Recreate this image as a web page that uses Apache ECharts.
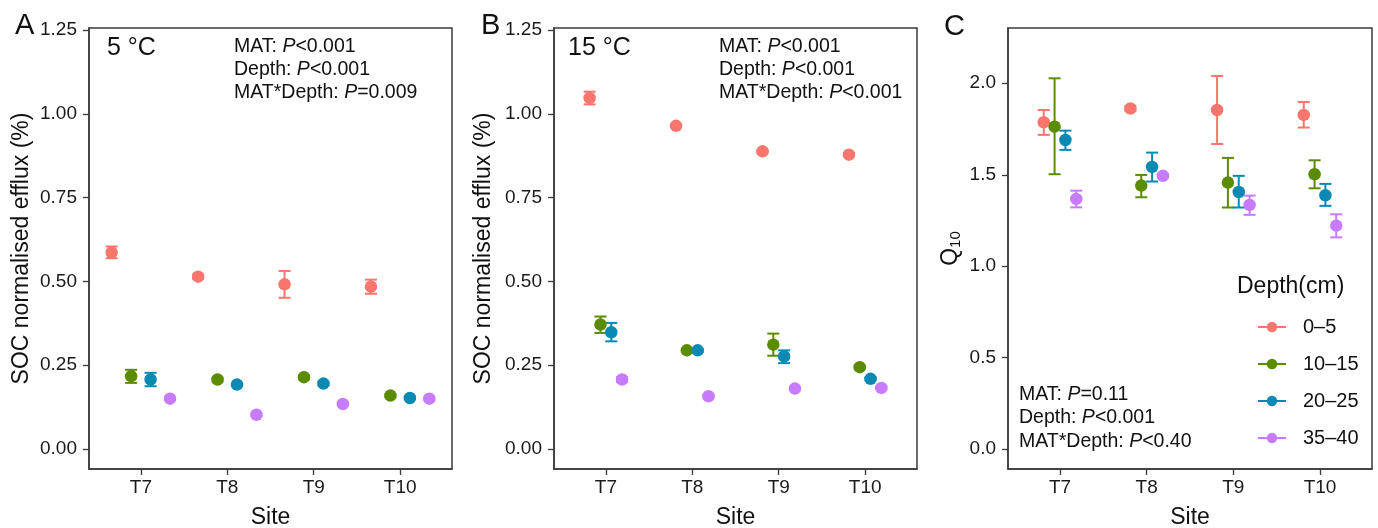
<!DOCTYPE html>
<html>
<head>
<meta charset="utf-8">
<script src="https://cdn.jsdelivr.net/npm/echarts@6/dist/echarts.min.js"></script>
<style>
html,body{margin:0;padding:0;background:#fff;}
#main{width:1378px;height:528px;}
</style>
</head>
<body>
<div id="main"></div>
<script>
// ---------------- data ----------------
const sites = ['T7', 'T8', 'T9', 'T10'];
const depths = ['0–5', '10–15', '20–25', '35–40'];
const colors = ['#F8766D', '#5B8C00', '#0A8AB3', '#C77CFF'];

// Panel A: 5 °C, SOC normalised efflux (%) ; rows = depth, cols = site
const aMean = [[0.586, 0.514, 0.491, 0.484], [0.217, 0.207, 0.214, 0.159], [0.207, 0.192, 0.195, 0.152], [0.150, 0.102, 0.134, 0.150]];
const aLow  = [[0.569, 0.508, 0.451, 0.463], [0.197, 0.202, 0.209, 0.155], [0.187, 0.188, 0.190, 0.148], [0.146, 0.098, 0.130, 0.146]];
const aHigh = [[0.604, 0.520, 0.531, 0.505], [0.236, 0.212, 0.219, 0.163], [0.227, 0.196, 0.200, 0.156], [0.154, 0.106, 0.138, 0.154]];

// Panel B: 15 °C
const bMean = [[1.047, 0.964, 0.888, 0.878], [0.371, 0.294, 0.311, 0.244], [0.348, 0.294, 0.276, 0.209], [0.207, 0.157, 0.180, 0.182]];
const bLow  = [[1.028, 0.960, 0.884, 0.874], [0.346, 0.290, 0.278, 0.240], [0.321, 0.290, 0.256, 0.205], [0.200, 0.153, 0.176, 0.178]];
const bHigh = [[1.066, 0.968, 0.892, 0.882], [0.395, 0.298, 0.344, 0.248], [0.376, 0.298, 0.294, 0.213], [0.214, 0.161, 0.184, 0.186]];

// Panel C: Q10
const cMean = [[1.787, 1.862, 1.854, 1.827], [1.763, 1.441, 1.457, 1.503], [1.690, 1.543, 1.406, 1.388], [1.368, 1.494, 1.335, 1.222]];
const cLow  = [[1.718, 1.850, 1.668, 1.758], [1.503, 1.377, 1.321, 1.426], [1.636, 1.463, 1.321, 1.330], [1.322, 1.484, 1.281, 1.158]];
const cHigh = [[1.854, 1.874, 2.040, 1.898], [2.027, 1.499, 1.592, 1.579], [1.741, 1.621, 1.494, 1.450], [1.413, 1.504, 1.386, 1.284]];

const effluxTicks = [0, 0.25, 0.5, 0.75, 1.0, 1.25];
const q10Ticks = [0, 0.5, 1.0, 1.5, 2.0];

// ---------------- layout ----------------
const dodgeA = [-0.3375, -0.1125, 0.1125, 0.3375];
const dodgeBC = [-0.1875, -0.0625, 0.0625, 0.1875];
const FONT = '"Liberation Sans", Arial, sans-serif';
const siteTicks = [1, 2, 3, 4];

const panels = [
  {mean: aMean, low: aLow, high: aHigh, dodge: dodgeA},
  {mean: bMean, low: bLow, high: bHigh, dodge: dodgeBC},
  {mean: cMean, low: cLow, high: cHigh, dodge: dodgeBC}
];

const grids = [
  {left: 89, top: 28, width: 363, height: 441},
  {left: 554, top: 28, width: 363, height: 441},
  {left: 1008, top: 28, width: 364, height: 441}
].map(g => Object.assign(g, {show: true, borderColor: '#3a3a3a', borderWidth: 1.5, backgroundColor: '#fff',
  containLabel: false, outerBoundsMode: 'none'}));

const xAxes = grids.map((g, i) => ({
  type: 'value', gridIndex: i, min: 0.4, max: 4.6,
  name: 'Site', nameLocation: 'middle', nameGap: 37,
  nameTextStyle: {fontSize: 23, color: '#111', fontFamily: FONT},
  axisLine: {show: true, onZero: false, lineStyle: {color: '#3a3a3a', width: 1.5}},
  axisTick: {show: true, length: 6, customValues: siteTicks, lineStyle: {color: '#3a3a3a', width: 1.3}},
  axisLabel: {customValues: siteTicks, margin: 9, fontSize: 19, color: '#1a1a1a', fontFamily: FONT,
    formatter: v => sites[Math.round(v) - 1]},
  splitLine: {show: false}
}));

const yAxisCommon = (i, min, max, ticks, dec) => ({
  type: 'value', gridIndex: i, min: min, max: max,
  nameLocation: 'middle',
  axisLine: {show: true, onZero: false, lineStyle: {color: '#3a3a3a', width: 1.5}},
  axisTick: {show: true, length: 6, customValues: ticks, lineStyle: {color: '#3a3a3a', width: 1.3}},
  axisLabel: {customValues: ticks, margin: 12, fontSize: 19, color: '#1a1a1a', fontFamily: FONT,
    formatter: v => v.toFixed(dec)},
  splitLine: {show: false}
});

const yAxes = [
  Object.assign(yAxisCommon(0, -0.06, 1.256, effluxTicks, 2), {
    name: 'SOC normalised efflux (%)', nameGap: 56,
    nameTextStyle: {fontSize: 23, color: '#111', fontFamily: FONT}}),
  Object.assign(yAxisCommon(1, -0.06, 1.256, effluxTicks, 2), {
    name: 'SOC normalised efflux (%)', nameGap: 59,
    nameTextStyle: {fontSize: 23, color: '#111', fontFamily: FONT}}),
  Object.assign(yAxisCommon(2, -0.108, 2.302, q10Ticks, 1), {
    name: '{q|Q}{s|10}', nameGap: 45,
    nameTextStyle: {color: '#111', fontFamily: FONT,
      rich: {q: {fontSize: 23, fontFamily: FONT, color: '#111'},
             s: {fontSize: 15, fontFamily: FONT, color: '#111', verticalAlign: 'bottom', padding: [10, 0, 0, 0]}}}})
];

const series = [];
panels.forEach((p, pi) => {
  depths.forEach((d, di) => {
    const errData = sites.map((s, si) => [si + 1 + p.dodge[di], p.low[di][si], p.high[di][si]]);
    series.push({
      type: 'custom', name: d + ' se', xAxisIndex: pi, yAxisIndex: pi, z: 2,
      data: errData,
      renderItem: (params, api) => {
        const x = api.value(0);
        const lo = api.coord([x, api.value(1)]);
        const hi = api.coord([x, api.value(2)]);
        const hw = 6;
        const st = {stroke: colors[di], lineWidth: 2};
        return {type: 'group', children: [
          {type: 'line', shape: {x1: lo[0], y1: lo[1], x2: hi[0], y2: hi[1]}, style: st},
          {type: 'line', shape: {x1: lo[0] - hw, y1: lo[1], x2: lo[0] + hw, y2: lo[1]}, style: st},
          {type: 'line', shape: {x1: hi[0] - hw, y1: hi[1], x2: hi[0] + hw, y2: hi[1]}, style: st}
        ]};
      },
      silent: true
    });
    series.push({
      type: 'line', name: d, xAxisIndex: pi, yAxisIndex: pi, z: 3,
      data: sites.map((s, si) => [si + 1 + p.dodge[di], p.mean[di][si]]),
      symbol: 'circle', symbolSize: 12.5, showSymbol: true,
      lineStyle: {opacity: 0, width: 0},
      itemStyle: {color: colors[di], opacity: 1},
      color: colors[di],
      animation: false, silent: true
    });
  });
});

function statText(x, y, name, rel) {
  return {type: 'text', x: x, y: y, style: {
    text: '{n|' + name + ' }{i|P}{n|' + rel + '}',
    textVerticalAlign: 'middle',
    rich: {n: {fontSize: 19.5, fontFamily: FONT, fill: '#111'},
           i: {fontSize: 19.5, fontFamily: FONT, fontStyle: 'italic', fill: '#111'}}
  }, z: 50};
}
function plainText(x, y, txt, size) {
  return {type: 'text', x: x, y: y, style: {text: txt, fontSize: size, fontFamily: FONT, fill: '#111', textVerticalAlign: 'middle'}, z: 50};
}

const graphics = [
  plainText(15, 26, 'A', 29), plainText(481, 26, 'B', 29), plainText(944, 27, 'C', 29),
  plainText(107, 48, '5 °C', 25), plainText(568, 48, '15 °C', 25),
  statText(234, 47, 'MAT:', '<0.001'), statText(234, 70, 'Depth:', '<0.001'), statText(234, 93, 'MAT*Depth:', '=0.009'),
  statText(719, 47, 'MAT:', '<0.001'), statText(719, 70, 'Depth:', '<0.001'), statText(719, 93, 'MAT*Depth:', '<0.001'),
  statText(1019, 395, 'MAT:', '=0.11'), statText(1019, 418, 'Depth:', '<0.001'), statText(1019, 442, 'MAT*Depth:', '<0.40'),
  plainText(1237, 287, 'Depth(cm)', 23)
];

const option = {
  backgroundColor: '#fff',
  animation: false,
  grid: grids,
  xAxis: xAxes,
  yAxis: yAxes,
  legend: {
    data: depths, orient: 'vertical', left: 1257, top: 317, padding: 0,
    itemWidth: 28, itemHeight: 13, itemGap: 17,
    lineStyle: {opacity: 1, width: 2},
    textStyle: {fontSize: 20, color: '#111', fontFamily: FONT, padding: [0, 0, 0, 12]},
    selectedMode: false
  },
  graphic: graphics,
  series: series
};

const chart = echarts.init(document.getElementById('main'), null, {renderer: 'canvas'});
chart.setOption(option);
</script>
</body>
</html>
